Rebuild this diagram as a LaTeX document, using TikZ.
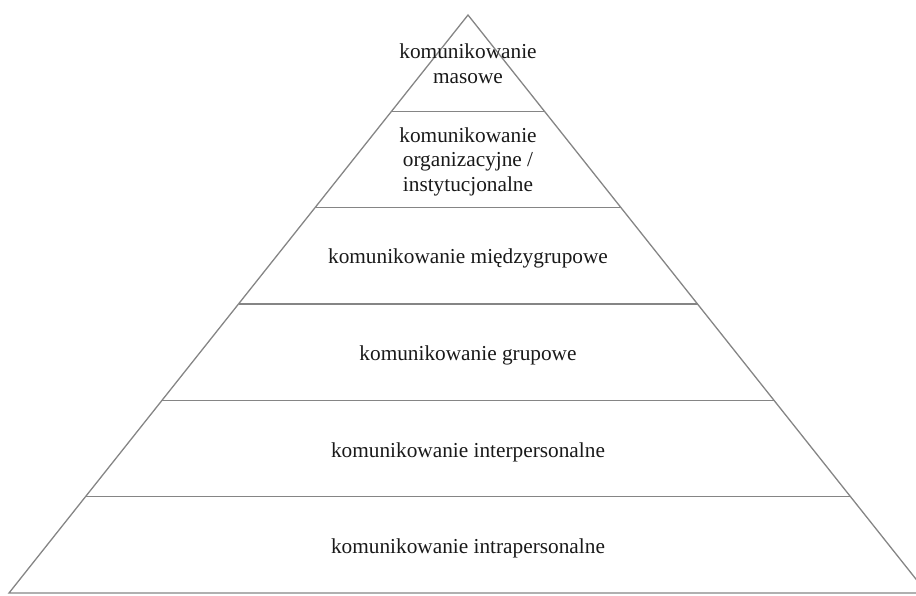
\documentclass[tikz,border=0pt]{standalone}
\usepackage{fontspec}
\setmainfont{Liberation Serif}
\begin{document}
\begin{tikzpicture}[x=1pt,y=-1pt,
  edge/.style={draw=black!48,line width=1.3pt},
  label/.style={anchor=base,align=center,inner sep=0pt,text=black!90,
    font=\fontsize{21.3}{24.5}\selectfont}]
\useasboundingbox (0,0) rectangle (916,595);
\clip (0,0) rectangle (916,595);
% apex and base corners
\coordinate (apex) at (468,15);
\coordinate (bl) at (9,593);
\coordinate (br) at (927,593);
\draw[edge,line join=miter] (apex) -- (br) -- (bl) -- cycle;
% layer boundaries (y, half width = (y-15)*0.7941)
\foreach \y in {111.3,207.7,304,400.3,496.7}{
  \pgfmathsetmacro{\hw}{(\y-15)*0.7941}
  \draw[edge] (468-\hw,\y) -- (468+\hw,\y);
}
% multi-line nodes: base anchor is at the last line's baseline
\node[label] (l6) at (468,83) {komunikowanie\\masowe};
\node[label] (l5) at (468,191) {komunikowanie\\organizacyjne /\\instytucjonalne};
\node[label] (l4) at (468,263) {komunikowanie międzygrupowe};
\node[label] (l3) at (468,360) {komunikowanie grupowe};
\node[label] (l2) at (468,457) {komunikowanie interpersonalne};
\node[label] (l1) at (468,553) {komunikowanie intrapersonalne};
\end{tikzpicture}
\end{document}
